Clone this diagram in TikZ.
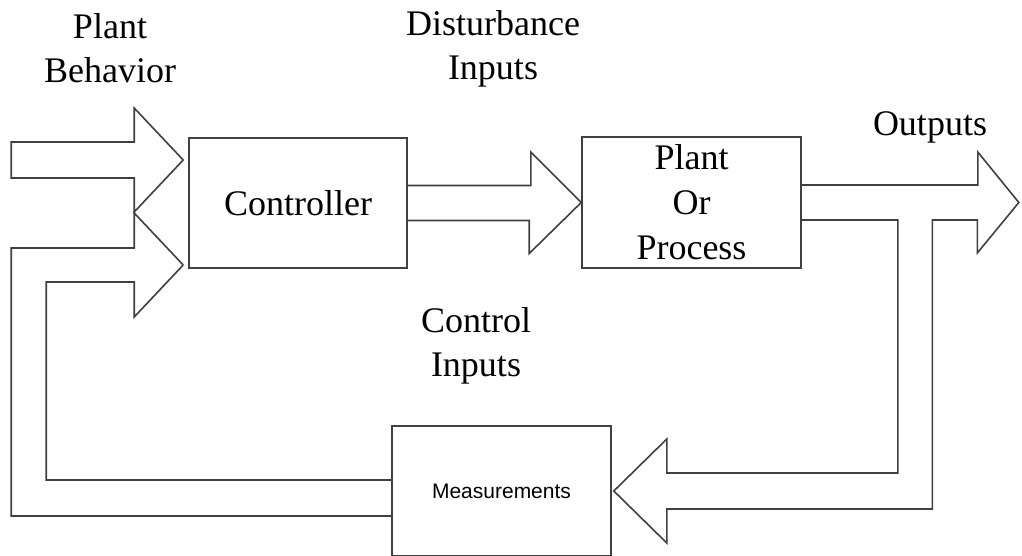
\documentclass[tikz,border=0pt]{standalone}
\usepackage{fontspec}
\setmainfont{Liberation Serif}
\setsansfont{Liberation Sans}
\usetikzlibrary{calc}
\usetikzlibrary{positioning}

\tikzset{
  block/.style={draw=black!75, line width=1.6pt, inner sep=0pt, align=center,
    font=\fontsize{36}{45}\selectfont},
  lbl/.style={inner sep=0pt, anchor=north, align=center,
    font=\fontsize{36}{44}\selectfont},
  fat/.style={draw=black!75, line width=1.6pt, line join=miter},
}

\begin{document}
\begin{tikzpicture}[x=1pt, y=-1pt]
    \useasboundingbox (0,0) rectangle (1022,555);

    \node[block, minimum width=218pt, minimum height=130pt] (ctrl) at (298,203) {Controller};
    \node[block, minimum width=219pt, minimum height=131pt] (plant) at (691.5,202.5) {Plant\\Or\\Process};
    \node[block, minimum width=219pt, minimum height=130pt,
      font=\sffamily\fontsize{21}{25}\selectfont] (meas) at (501.5,491) {Measurements};

    % plant behavior
    \coordinate (behtip) at ($(ctrl.west)+(-5,-43)$);
    \draw[fat] (behtip) -- ++(-49,-52) -- ++(0,34) -- ++(-123,0)
      -- ++(0,36) -- ++(123,0) -- ++(0,34) -- cycle;

    % feedback into the controller
    \coordinate (fbtip) at ($(ctrl.west)+(-5,62)$);
    \draw[fat] (fbtip) -- ++(-49,-52) -- ++(0,35)
      -| ($(meas.west)+(-380,25)$) -- ($(meas.west)+(0,25)$);
    \draw[fat] (fbtip) -- ++(-49,52) -- ++(0,-35)
      -| ($(meas.west)+(-345,-11)$) -- ($(meas.west)+(0,-11)$);

    % control inputs
    \draw[fat] ($(ctrl.east)+(0,-17.5)$) -- ++(123,0) -- ++(0,-33.5)
      -- (plant.west) -- ++(-52,51) -- ++(0,-33) -- ($(ctrl.east)+(0,17.5)$);

    % outputs and measurements
    \coordinate (outtip) at ($(plant.east)+(217,0)$);
    \draw[fat] ($(plant.east)+(0,-17.5)$) -- ++(176,0) -- ++(0,-33)
      -- (outtip) -- ++(-41.5,50.5) -- ++(0,-33) -- ++(-45,0)
      |- ($(meas.east)+(55,18)$) -- ++(0,34) -- ($(meas.east)+(2,0)$)
      -- ++(53,-52) -- ++(0,34)
      -| ($(plant.east)+(96,17.5)$) -- ($(plant.east)+(0,17.5)$);

    \node[lbl] (behavior) at (110,13) {Plant\\Behavior};
    \node[lbl] (disturb) at (493,10) {Disturbance\\Inputs};
    \node[lbl] (ctrlin) at (476,307) {Control\\Inputs};
    \node[lbl] (outputs) at (930,111) {Outputs};
\end{tikzpicture}
\end{document}
